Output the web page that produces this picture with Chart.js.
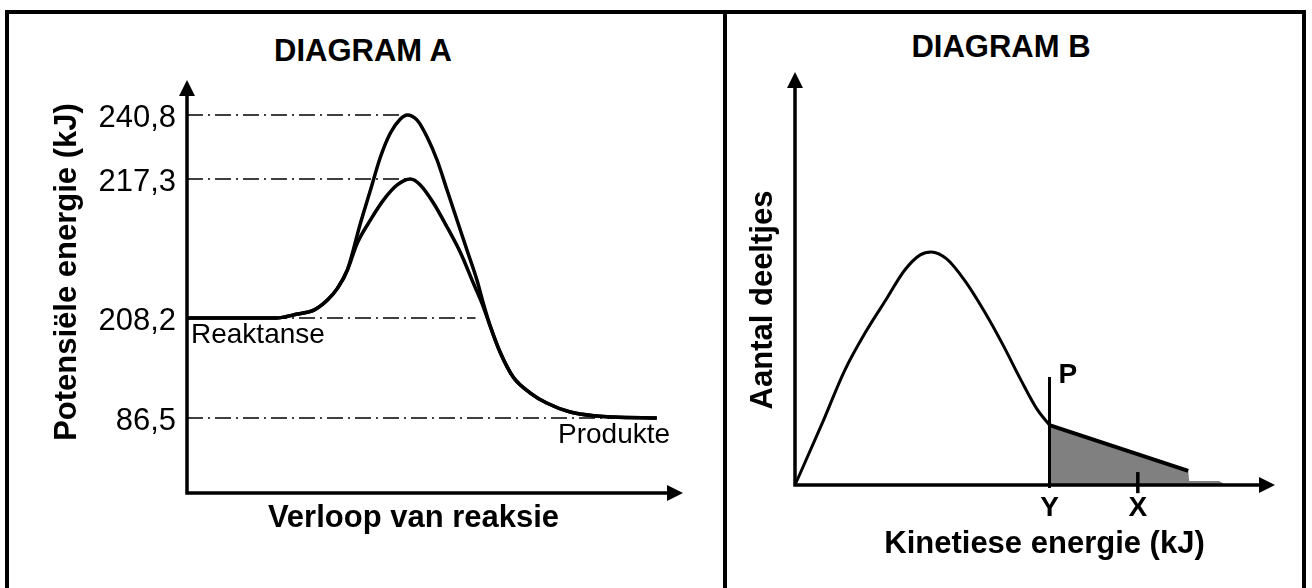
<!DOCTYPE html>
<html>
<head>
<meta charset="utf-8">
<script src="https://cdn.jsdelivr.net/npm/chart.js@4/dist/chart.umd.min.js"></script>
<style>
  body { margin: 0; width: 1312px; height: 588px; overflow: hidden; background: #fff; position: relative; }
  #frame { position: absolute; left: 5px; top: 10px; width: 1293px; height: 700px; border: 4px solid #000; }
  #divider { position: absolute; left: 723px; top: 10px; width: 4px; height: 700px; background: #000; }
  .head { position: absolute; width: 300px; text-align: center; color: #000;
          font: bold 31px/31px "Liberation Sans", Arial, sans-serif; }
  canvas { position: absolute; }
</style>
</head>
<body>
<div id="frame"></div>
<div id="divider"></div>
<div class="head" style="left:213px; top:35px">DIAGRAM A</div>
<div class="head" style="left:851px; top:31px">DIAGRAM B</div>
<canvas id="diagramA" width="714" height="574" style="left:9px; top:14px"></canvas>
<canvas id="diagramB" width="575" height="574" style="left:727px; top:14px"></canvas>
<script>
// ===== Diagram A: potential energy (kJ) vs. reaction progress (0-100) =====
const energyLevels = [240.8, 217.3, 208.2, 86.5];
const guideEnds = [49.3, 49.3, 63.7, 94.5]; // where each dash-dot guide stops

const uncatalysedX = [0, 19.6, 24.4, 28.0, 31.0, 33.2, 35.4, 38.3, 40.5, 42.7, 44.9, 47.1, 48.6, 50.8, 53.0,
  55.2, 57.4, 59.6, 61.8, 64.0, 65.4, 67.0, 69.2, 72.0, 75.8, 79.4, 84.6, 90.5, 94.1, 103.7];
const uncatalysedE = [208.2, 208.2, 208.46, 208.72, 209.38, 210.14, 211.34, 214.42, 216.58, 225.38, 234.19, 239.3, 240.8, 238.9, 232.72,
  224.28, 216.58, 214.62, 212.65, 210.69, 209.18, 197.3, 165.6, 136.4, 116.9, 104.8, 93.8, 88.9, 87.7, 86.5];

const catalysedX = [0, 19.6, 24.4, 28.0, 31.0, 33.2, 35.4, 37.6, 40.5, 43.4, 46.4, 49.3, 51.5, 54.4,
  57.4, 60.4, 63.2, 65.1, 67.0, 69.2, 72.0, 75.8, 79.4, 84.6, 90.5, 94.1, 103.7];
const catalysedE = [208.2, 208.2, 208.46, 208.72, 209.38, 210.14, 211.34, 213.11, 214.62, 215.93, 216.91, 217.3, 216.91, 215.73,
  214.16, 212.46, 210.49, 209.18, 197.3, 165.6, 136.4, 116.9, 104.8, 93.8, 88.9, 87.7, 86.5];

// ===== Diagram B: number of particles vs. kinetic energy (0-100) =====
const kineticX = [0, 5.4, 9.9, 14.4, 18.2, 22.0, 25.1, 27.3, 30.4, 34.1, 37.9, 41.7, 45.5, 48.5, 51.0];
const particleN = [0, 16.5, 30.8, 41.9, 50.0, 58.1, 62.2, 63.0, 61.1, 55.1, 47.0, 37.8, 27.8, 20.5, 16.2];
const tailX = [51.0, 78.8];
const tailN = [16.2, 3.8];
const shadeX = [51.0, 78.8, 79.0, 85.0, 86.3];
const shadeN = [16.2, 3.8, 1.1, 1.1, 0];
const markLabels = ['Y', 'X'];
const markX = [51.0, 68.7];
const thresholdTop = 29.2;

const FONT = '"Liberation Sans", Arial, sans-serif';
Chart.defaults.font.family = FONT;
Chart.defaults.color = '#000';

const pts = (xs, ys) => xs.map((x, i) => ({ x, y: ys[i] }));
const comma = v => v.toFixed(1).replace('.', ',');

// energy axis of diagram A is not to scale: piecewise linear between knots
class LevelScale extends Chart.LinearScale {
  getPixelForValue(value) {
    const k = this.options.knots;
    let i = 1;
    while (i < k.length - 1 && value > k[i][0]) i++;
    const [v0, f0] = k[i - 1], [v1, f1] = k[i];
    return this.getPixelForDecimal(f0 + (value - v0) / (v1 - v0) * (f1 - f0));
  }
  getValueForPixel(pixel) {
    const d = this.getDecimalForPixel(pixel), k = this.options.knots;
    let i = 1;
    while (i < k.length - 1 && d > k[i][1]) i++;
    const [v0, f0] = k[i - 1], [v1, f1] = k[i];
    return v0 + (d - f0) / (f1 - f0) * (v1 - v0);
  }
}
LevelScale.id = 'level';
Chart.register(LevelScale);

// axis lines with arrow heads
const axisArrows = {
  id: 'axisArrows',
  afterDatasetsDraw(chart, args, opts) {
    const { ctx, chartArea: { left, right, top, bottom } } = chart;
    const xTip = right + opts.xOver, yTip = top - opts.yOver;
    const head = 16, half = 8;
    ctx.save();
    ctx.strokeStyle = ctx.fillStyle = '#000';
    ctx.lineWidth = 3.5;
    ctx.lineJoin = 'miter';
    ctx.beginPath();
    ctx.moveTo(left, yTip + head - 2);
    ctx.lineTo(left, bottom);
    ctx.lineTo(xTip - head + 2, bottom);
    ctx.stroke();
    ctx.beginPath();
    ctx.moveTo(left, yTip);
    ctx.lineTo(left - half, yTip + head);
    ctx.lineTo(left + half, yTip + head);
    ctx.closePath();
    ctx.moveTo(xTip, bottom);
    ctx.lineTo(xTip - head, bottom - half);
    ctx.lineTo(xTip - head, bottom + half);
    ctx.closePath();
    ctx.fill();
    ctx.restore();
  }
};

// small text labels anchored to data coordinates
const notes = items => ({
  id: 'notes',
  afterDatasetsDraw(chart) {
    const { ctx, scales: { x, y } } = chart;
    ctx.save();
    ctx.fillStyle = '#000';
    items.forEach(n => {
      ctx.font = n.font;
      ctx.fillText(n.text, x.getPixelForValue(n.at[0]) + n.shift[0], y.getPixelForValue(n.at[1]) + n.shift[1]);
    });
    ctx.restore();
  }
});

const titleFont = { size: 31, weight: 'bold', lineHeight: 1 };
const hidden = { grid: { display: false, drawTicks: false }, border: { display: false } };
const common = {
  responsive: false,
  animation: false,
  events: [],
  elements: { point: { radius: 0 } },
  datasets: { line: { clip: false, borderColor: '#000', fill: false } }
};

// ----- Diagram A -----
const guides = energyLevels.map((e, i) => ({
  data: [{ x: 0, y: e }, { x: guideEnds[i], y: e }],
  borderColor: '#000',
  borderWidth: 1.5,
  borderDash: [16, 5, 2, 5]
}));

new Chart(document.getElementById('diagramA'), {
  type: 'line',
  data: {
    datasets: [
      { data: pts(uncatalysedX, uncatalysedE), borderColor: '#000', borderWidth: 3.5, cubicInterpolationMode: 'monotone' },
      { data: pts(catalysedX, catalysedE), borderColor: '#000', borderWidth: 3.5, cubicInterpolationMode: 'monotone' },
      ...guides
    ]
  },
  options: {
    ...common,
    layout: { padding: { left: 20, top: 37, right: 83, bottom: 0 } },
    scales: {
      x: {
        type: 'linear', min: 0, max: 100, ...hidden,
        ticks: { display: false },
        title: { display: true, text: 'Verloop van reaksie', font: titleFont, padding: { top: 0, bottom: 54 } },
        afterFit: s => { s.height = 95; }
      },
      y: {
        type: 'level', min: 0, max: 265, ...hidden,
        knots: [[0, 0], [86.5, 0.1697], [208.2, 0.3959], [217.3, 0.7104], [240.8, 0.8552], [265, 1]],
        afterBuildTicks: s => { s.ticks = energyLevels.map(value => ({ value })); },
        ticks: { autoSkip: false, padding: 11, labelOffset: 3, font: { size: 31 }, callback: v => comma(v) },
        title: { display: true, text: 'Potensiële energie (kJ)', font: titleFont, padding: { top: 22.5, bottom: 0 } },
        afterFit: s => { s.width = 158; }
      }
    },
    plugins: {
      legend: { display: false },
      tooltip: { enabled: false },
      colors: { enabled: false },
      axisArrows: { xOver: 43, yOver: -29 }
    }
  },
  plugins: [axisArrows, notes([
    { text: 'Reaktanse', at: [0, energyLevels[2]], shift: [4, 25], font: '28px ' + FONT },
    { text: 'Produkte', at: [81.9, energyLevels[3]], shift: [0, 25], font: '28px ' + FONT }
  ])]
});

// ----- Diagram B -----
new Chart(document.getElementById('diagramB'), {
  type: 'line',
  data: {
    datasets: [
      { data: pts(kineticX, particleN), borderColor: '#000', borderWidth: 3, cubicInterpolationMode: 'monotone' },
      { data: pts(tailX, tailN), borderColor: '#000', borderWidth: 4 },
      { data: [{ x: markX[0], y: -0.8 }, { x: markX[0], y: thresholdTop }], borderColor: '#000', borderWidth: 3 },
      { data: [{ x: markX[1], y: -2.2 }, { x: markX[1], y: 3.5 }], borderColor: '#000', borderWidth: 3.5 },
      { data: pts(shadeX, shadeN), borderWidth: 0, borderColor: '#808080', fill: 'origin', backgroundColor: '#808080' }
    ]
  },
  options: {
    ...common,
    layout: { padding: { left: 0, top: 101, right: 8, bottom: 0 } },
    scales: {
      x: {
        type: 'linear', min: 0, max: 100, ...hidden,
        afterBuildTicks: s => { s.ticks = markX.map(value => ({ value })); },
        ticks: { autoSkip: false, maxRotation: 0, padding: 9, font: { size: 28, weight: 'bold', lineHeight: 1 },
                 callback: (v, i) => markLabels[i] },
        title: { display: true, text: 'Kinetiese energie (kJ)', font: titleFont, padding: { top: 0, bottom: 28.5 } },
        afterFit: s => { s.height = 103; }
      },
      y: {
        type: 'linear', min: 0, max: 100, ...hidden,
        ticks: { display: false },
        title: { display: true, text: 'Aantal deeltjes', font: titleFont, padding: { top: 20.8, bottom: 0 } },
        afterFit: s => { s.width = 68; }
      }
    },
    plugins: {
      legend: { display: false },
      tooltip: { enabled: false },
      colors: { enabled: false },
      axisArrows: { xOver: -19, yOver: 43 }
    }
  },
  plugins: [axisArrows, notes([
    { text: 'P', at: [markX[0], thresholdTop], shift: [9, 6], font: 'bold 28px ' + FONT }
  ])]
});
</script>
</body>
</html>
